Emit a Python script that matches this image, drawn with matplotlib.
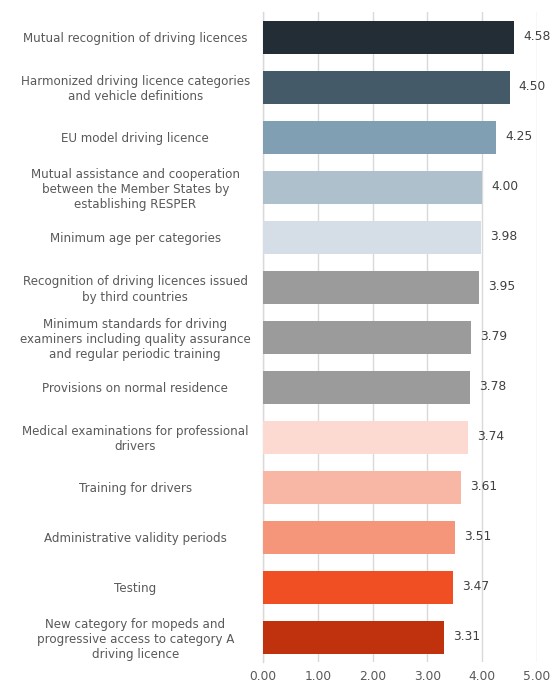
import matplotlib
matplotlib.use("Agg")
import matplotlib.pyplot as plt

categories = [
    "Mutual recognition of driving licences",
    "Harmonized driving licence categories\nand vehicle definitions",
    "EU model driving licence",
    "Mutual assistance and cooperation\nbetween the Member States by\nestablishing RESPER",
    "Minimum age per categories",
    "Recognition of driving licences issued\nby third countries",
    "Minimum standards for driving\nexaminers including quality assurance\nand regular periodic training",
    "Provisions on normal residence",
    "Medical examinations for professional\ndrivers",
    "Training for drivers",
    "Administrative validity periods",
    "Testing",
    "New category for mopeds and\nprogressive access to category A\ndriving licence",
]
scores = [4.58, 4.50, 4.25, 4.00, 3.98, 3.95, 3.79, 3.78, 3.74, 3.61, 3.51, 3.47, 3.31]
bar_colors = [
    "#232d36", "#455a68", "#819fb2", "#adc0cc", "#d5dee6",
    "#9b9b9b", "#9b9b9b", "#9b9b9b",
    "#fcdad2", "#f8b6a5", "#f5967a", "#f04f24", "#c0310e",
]
ticks = [0, 1, 2, 3, 4, 5]

fig = plt.figure(figsize=(5.53, 6.84), dpi=100)
ax = fig.add_axes([263 / 553, 1 - 662 / 684, (537 - 263) / 553, 650 / 684])

y = list(range(len(categories)))
ax.barh(y, scores, height=0.66, color=bar_colors, edgecolor="none", zorder=3)
for yi, v in zip(y, scores):
    ax.annotate(f"{v:.2f}", xy=(v, yi), xytext=(6.5, 0), textcoords="offset points",
                va="center", ha="left", fontsize=8.8, color="#404040", zorder=4)

ax.set_xlim(0, 5)
ax.set_ylim(len(categories) - 0.5, -0.5)
ax.set_xticks(ticks)
ax.set_xticklabels([f"{t:.2f}" for t in ticks], fontsize=8.8, color="#595959")
ax.set_yticks(y)
ax.set_yticklabels(categories, fontsize=8.6, color="#595959", ha="center",
                   linespacing=1.2)
ax.tick_params(axis="y", length=0, pad=92)
ax.tick_params(axis="x", length=0, pad=6)
ax.grid(axis="x", color="#d9d9d9", linewidth=1, zorder=0)
for s in ["top", "right", "bottom"]:
    ax.spines[s].set_visible(False)
ax.spines["left"].set_color("#d9d9d9")
ax.spines["left"].set_linewidth(1)

fig.savefig("out.png", dpi=100)
